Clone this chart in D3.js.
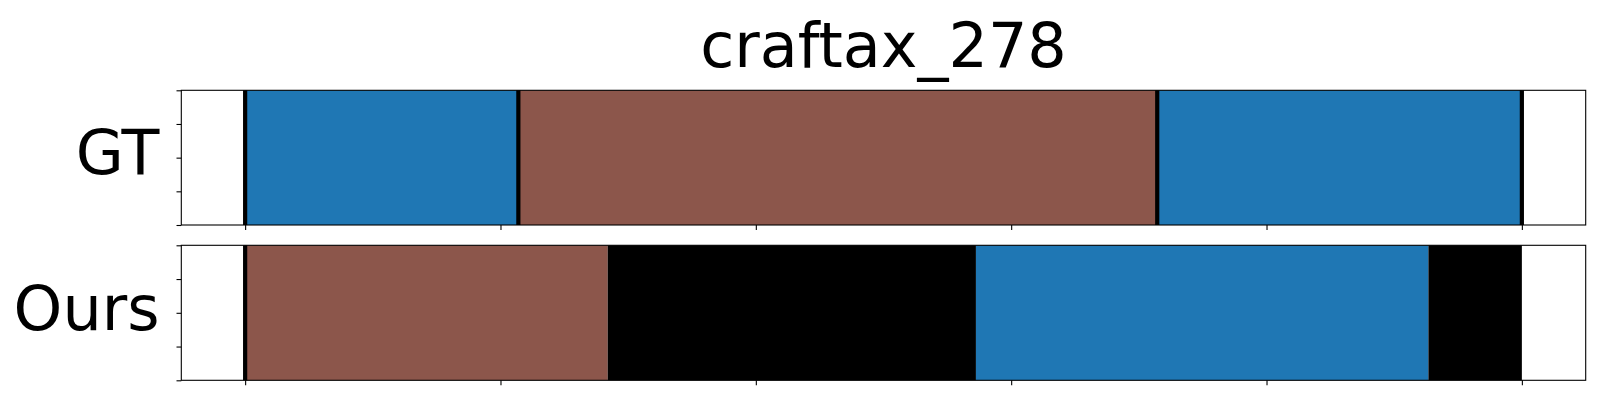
<!DOCTYPE html>
<html>
<head>
<meta charset="utf-8">
<script src="https://cdn.jsdelivr.net/npm/d3@7"></script>
<style>
  html, body { margin: 0; padding: 0; background: #fff; }
  svg { display: block; }
  text { font-family: "DejaVu Sans", sans-serif; fill: #000; }
</style>
</head>
<body>
<svg id="chart" width="1600" height="400"></svg>
<script>
// ---- data ----
const title = "craftax_278";
const rowNames = ["GT", "Ours"];
const gtStarts = [0, 53.5, 178.6];
const gtEnds = [53.5, 178.6, 250];
const gtClasses = ["blue", "brown", "blue"];
const gtBoundaries = [0, 53.5, 178.6, 250];
const oursStarts = [0, 71.0, 143.1, 231.7];
const oursEnds = [71.0, 143.1, 231.7, 250];
const oursClasses = ["brown", "none", "blue", "none"];
const oursBoundaries = [0];
const xTicks = [0, 50, 100, 150, 200, 250];
const yTicks = [0, 0.25, 0.5, 0.75, 1];
const classColors = { blue: "#1f77b4", brown: "#8c564b", none: "#000000" };

// ---- layout ----
const svg = d3.select("#chart");
svg.append("rect").attr("width", 1600).attr("height", 400).attr("fill", "#fff");
const left = 181.3, right = 1585.7;
const panels = [
  { name: rowNames[0], top: 90.3, bottom: 225, starts: gtStarts, ends: gtEnds, classes: gtClasses, bounds: gtBoundaries, baseline: 174.3 },
  { name: rowNames[1], top: 245.3, bottom: 380.3, starts: oursStarts, ends: oursEnds, classes: oursClasses, bounds: oursBoundaries, baseline: 329.5 }
];
const x = d3.scaleLinear().domain([-12.5, 262.5]).range([left, right]);

svg.append("text")
  .attr("x", (left + right) / 2).attr("y", 67)
  .attr("text-anchor", "middle")
  .attr("font-size", 62)
  .text(title);

panels.forEach(p => {
  const y = d3.scaleLinear().domain([0, 1]).range([p.bottom, p.top]);
  const g = svg.append("g");
  const segs = p.starts.map((s, i) => ({ s, e: p.ends[i], c: p.classes[i] }));
  g.selectAll("rect.seg").data(segs).enter().append("rect")
    .attr("class", "seg")
    .attr("x", d => x(d.s))
    .attr("width", d => x(d.e) - x(d.s))
    .attr("y", y(1))
    .attr("height", y(0) - y(1))
    .attr("fill", d => classColors[d.c]);
  g.selectAll("line.bound").data(p.bounds).enter().append("line")
    .attr("class", "bound")
    .attr("x1", d => x(d)).attr("x2", d => x(d))
    .attr("y1", y(0)).attr("y2", y(1))
    .attr("stroke", "#000").attr("stroke-width", 4.2);

  // axes
  const xAxis = d3.axisBottom(x).tickValues(xTicks).tickFormat("").tickSize(5).tickSizeOuter(0);
  const gx = svg.append("g").attr("transform", `translate(0,${p.bottom})`).call(xAxis);
  gx.select(".domain").remove();
  gx.selectAll(".tick line").attr("stroke", "#000").attr("stroke-width", 1.1);
  const yAxis = d3.axisLeft(y).tickValues(yTicks).tickFormat("").tickSize(4.8).tickSizeOuter(0);
  const gy = svg.append("g").attr("transform", `translate(${left},0)`).call(yAxis);
  gy.select(".domain").remove();
  gy.selectAll(".tick line").attr("stroke", "#000").attr("stroke-width", 1.1);

  svg.append("rect")
    .attr("x", left).attr("y", p.top)
    .attr("width", right - left).attr("height", p.bottom - p.top)
    .attr("fill", "none").attr("stroke", "#000").attr("stroke-width", 1.1);

  svg.append("text")
    .attr("x", 159.5).attr("y", p.baseline)
    .attr("text-anchor", "end")
    .attr("font-size", 62)
    .text(p.name);
});
</script>
</body>
</html>
